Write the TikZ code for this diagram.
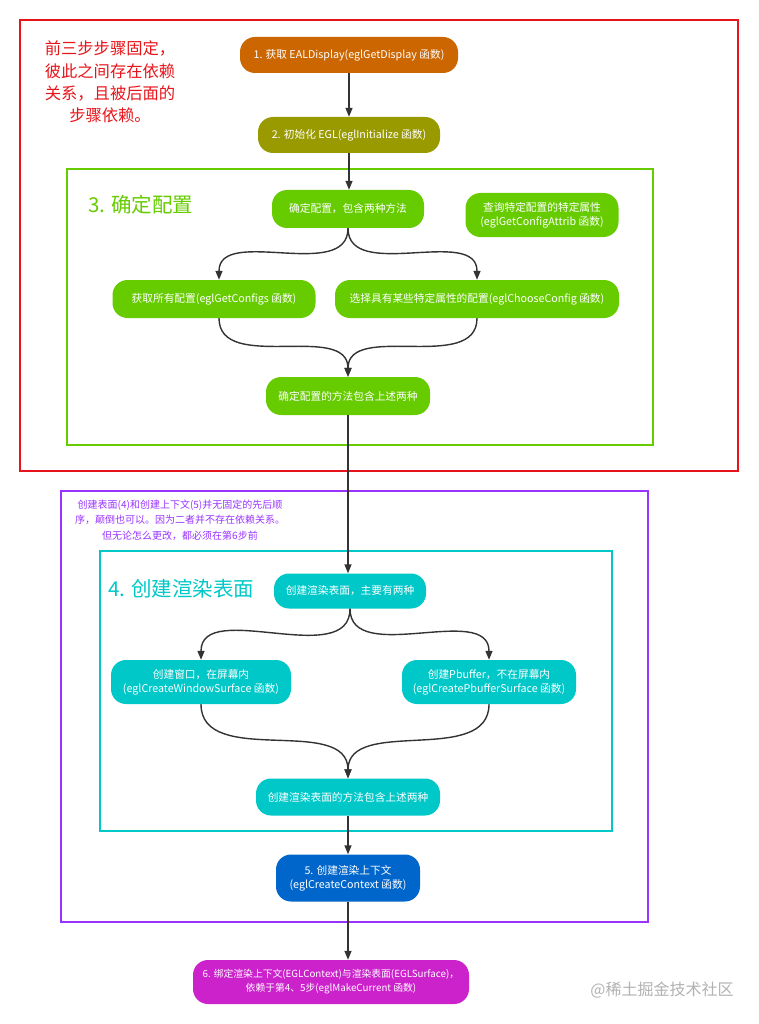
\documentclass[tikz,border=0pt]{standalone}
\usepackage{fontspec}
\setmainfont{Noto Sans CJK SC}
\usetikzlibrary{arrows.meta}
\definecolor{corange}{HTML}{CC6600}
\definecolor{colive}{HTML}{999900}
\definecolor{cgreen}{HTML}{66CC00}
\definecolor{ccyan}{HTML}{00C8C8}
\definecolor{cblue}{HTML}{0066CC}
\definecolor{cmagenta}{HTML}{CC22CC}
\definecolor{cred}{HTML}{E8141B}
\definecolor{cpurple}{HTML}{9933FF}
\definecolor{darkline}{HTML}{333333}
\begin{document}
\begin{tikzpicture}[x=1pt,y=-1pt,
  box/.style={rounded corners=15pt, inner sep=0pt, text=white,
    font=\fontsize{10.7}{14}\selectfont, align=center},
  arr/.style={draw=darkline, line width=1.4pt, -{Triangle[length=9pt,width=7pt]}},
  frame/.style={line width=1.6pt},
  title/.style={font=\fontsize{20.5}{24}\selectfont, anchor=west, inner sep=0pt}]
\useasboundingbox (0,0) rectangle (759,1024);
\fill[white] (0,0) rectangle (759,1024);
% frames
\draw[frame, draw=cred] (20,20) rectangle (738,471);
\draw[frame, draw=cgreen] (67,169) rectangle (653,445);
\draw[frame, draw=cpurple] (61,491) rectangle (648,922);
\draw[frame, draw=ccyan] (100,551) rectangle (612,831);
% notes
\node[text=cred, font=\fontsize{16.3}{22.3}\selectfont, align=center] (note1) at (110,82)
  {前三步步骤固定，\\彼此之间存在依赖\\关系，且被后面的\\步骤依赖。};
\node[text=cpurple, font=\fontsize{10}{15.5}\selectfont, align=center] (note2) at (180,520)
  {创建表面(4)和创建上下文(5)并无固定的先后顺\\序，颠倒也可以。因为二者并不存在依赖关系。\\但无论怎么更改，都必须在第6步前};
\node[title, text=cgreen] (t3) at (88,205) {3. 确定配置};
\node[title, text=ccyan] (t4) at (108,589) {4. 创建渲染表面};
\node[text=black!30, font=\fontsize{16}{18}\selectfont] (wm) at (662,990) {@稀土掘金技术社区};
% nodes
\node[box, fill=corange, minimum width=218pt, minimum height=36pt] (n1) at (349,55)
  {1. 获取 EALDisplay(eglGetDisplay 函数)};
\node[box, fill=colive, minimum width=182pt, minimum height=36pt] (n2) at (349,135)
  {2. 初始化 EGL(eglInitialize 函数)};
\node[box, fill=cgreen, minimum width=152pt, minimum height=38pt] (c0) at (348,209)
  {确定配置，包含两种方法};
\node[box, fill=cgreen, minimum width=153pt, minimum height=44pt] (ca) at (542,215)
  {查询特定配置的特定属性\\(eglGetConfigAttrib 函数)};
\node[box, fill=cgreen, minimum width=203pt, minimum height=38pt] (c1) at (214,299)
  {获取所有配置(eglGetConfigs 函数)};
\node[box, fill=cgreen, minimum width=284pt, minimum height=38pt] (c2) at (477,299)
  {选择具有某些特定属性的配置(eglChooseConfig 函数)};
\node[box, fill=cgreen, minimum width=164pt, minimum height=38pt] (c3) at (348,396)
  {确定配置的方法包含上述两种};
\node[box, fill=ccyan, minimum width=152pt, minimum height=35pt] (s0) at (350,591)
  {创建渲染表面，主要有两种};
\node[box, fill=ccyan, minimum width=180pt, minimum height=44pt] (s1) at (201,682)
  {创建窗口，在屏幕内\\(eglCreateWindowSurface 函数)};
\node[box, fill=ccyan, minimum width=174pt, minimum height=44pt] (s2) at (489,682)
  {创建Pbuffer，不在屏幕内\\(eglCreatePbufferSurface 函数)};
\node[box, fill=ccyan, minimum width=184pt, minimum height=37pt] (s3) at (348,797)
  {创建渲染表面的方法包含上述两种};
\node[box, fill=cblue, minimum width=144pt, minimum height=47pt] (n5) at (348,878)
  {5. 创建渲染上下文\\(eglCreateContext 函数)};
\node[box, fill=cmagenta, minimum width=276pt, minimum height=44pt,
  font=\fontsize{9.8}{14}\selectfont] (n6) at (331,982)
  {6. 绑定渲染上下文(EGLContext)与渲染表面(EGLSurface)，\\依赖于第4、5步(eglMakeCurrent 函数)};
% connectors
\draw[arr] (n1) -- (n2);
\draw[arr] (n2.south) -- (n2.south |- c0.north);
\draw[arr] (c0.south) to[out=-90,in=90] ([xshift=5pt]c1.north);
\draw[arr] (c0.south) to[out=-90,in=90] (c2.north);
\draw[arr] ([xshift=5pt]c1.south) to[out=-90,in=90] (c3.north);
\draw[arr] (c2.south) to[out=-90,in=90] (c3.north);
\draw[arr] (c3.south) -- (c3.south |- s0.north);
\draw[arr] (s0.south) to[out=-90,in=90] (s1.north);
\draw[arr] (s0.south) to[out=-90,in=90] (s2.north);
\draw[arr] (s1.south) to[out=-90,in=90] (s3.north);
\draw[arr] (s2.south) to[out=-90,in=90] (s3.north);
\draw[arr] (s3.south) -- (n5.north);
\draw[arr] (n5.south) -- (n5.south |- n6.north);
\end{tikzpicture}
\end{document}
